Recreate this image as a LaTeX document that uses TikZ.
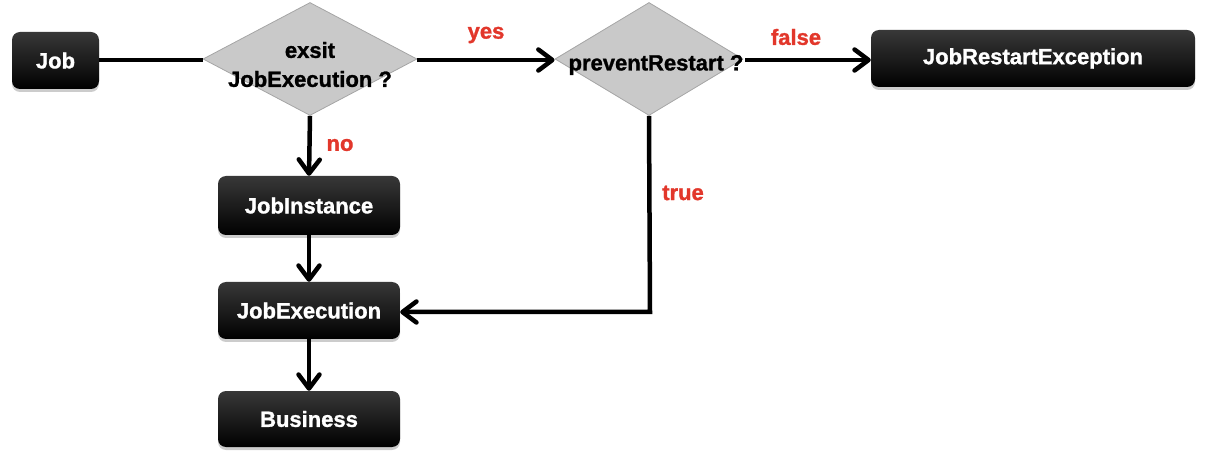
\documentclass[tikz,border=0pt]{standalone}
\usepackage{fontspec}
\setmainfont{Liberation Sans}[BoldFeatures={FakeBold=1.3}]
\usetikzlibrary{shapes.geometric,arrows.meta,shadows}
\definecolor{lblred}{HTML}{E2372B}
\definecolor{diafill}{HTML}{C9C9C9}
\definecolor{diaedge}{HTML}{A5A5A5}
\tikzset{
  box/.style={rounded corners=8pt, inner sep=0pt, top color=black!78, middle color=black, bottom color=black,
    text=white, font=\fontsize{22}{24}\selectfont\bfseries,
    drop shadow={opacity=0.2, shadow xshift=0pt, shadow yshift=-3pt, fill=black}},
  dia/.style={diamond, draw=diaedge, line width=0.8pt, fill=diafill, inner sep=0pt},
  dtext/.style={font=\fontsize{22}{29}\selectfont\bfseries, align=center, inner sep=0pt},
  lbl/.style={text=lblred, font=\fontsize{22}{24}\selectfont\bfseries, inner sep=0pt},
  conn/.style={line width=4.5pt, line join=miter},
  arr/.style={conn, -{Straight Barb[length=14pt,width=21pt,line cap=round,line join=round]}},
}
\begin{document}
\begin{tikzpicture}[x=1pt,y=-1pt]
\useasboundingbox (0,0) rectangle (1208,462);
% boxes
\node[box, minimum width=87pt, minimum height=57pt] (job) at (55.5,60.5) {Job};
\node[box, minimum width=324pt, minimum height=57pt] (jre) at (1033,58.5) {JobRestartException};
\node[box, minimum width=182pt, minimum height=59pt] (ji) at (309,205.5) {JobInstance};
\node[box, minimum width=182pt, minimum height=57pt] (je) at (309,310.5) {JobExecution};
\node[box, minimum width=182pt, minimum height=56pt] (bus) at (309,419) {Business};
% diamonds
\node[dia, minimum width=214pt, minimum height=113pt] (d1) at (310,59) {};
\node[dtext] (d1t) at (310,64.5) {exsit\\JobExecution ?};
\node[dia, minimum width=188pt, minimum height=113pt] (d2) at (649,59) {};
\node[dtext] (d2t) at (656,65) {preventRestart ?};
\coordinate (d2r) at (745,60);
\coordinate (bend) at (650,312);
% connectors
\draw[conn] (job.east |- 0,60) -- (d1.west |- 0,60);
\draw[arr] (d1.east |- 0,60) -- (d2.west |- 0,60);
\draw[arr] (d2r) -- (jre.west |- 0,60);
\draw[arr] (d1.south) -- (ji.north);
\draw[arr] (ji.south) -- (je.north);
\draw[arr] (je.south) -- (bus.north);
\draw[arr] (d2.south) -- (bend) -- (je.east |- bend);
% labels
\node[lbl] (lyes) at (486,35) {yes};
\node[lbl] (lfalse) at (796,37) {false};
\node[lbl] (lno) at (340,145) {no};
\node[lbl] (ltrue) at (683,193) {true};
\end{tikzpicture}
\end{document}
